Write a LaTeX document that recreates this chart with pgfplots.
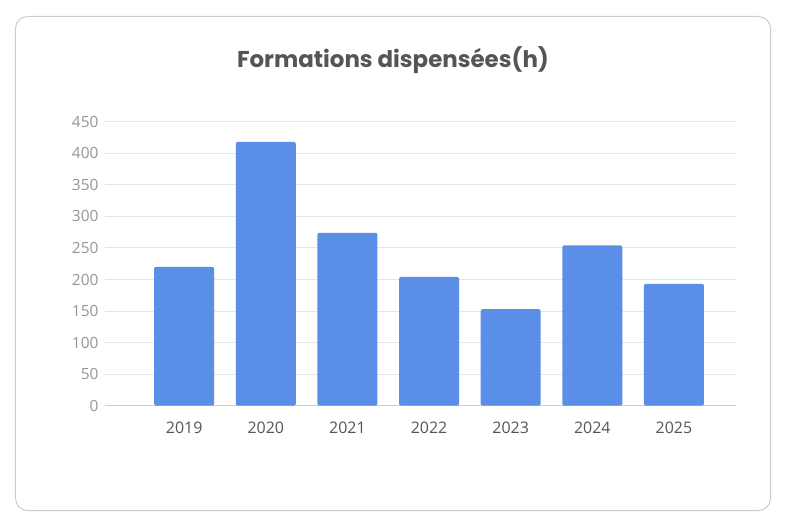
\documentclass[border=0pt]{standalone}
\usepackage{pgfplots}
\pgfplotsset{compat=1.18}
\usepackage{fontspec}
\setmainfont{Open Sans}
\newfontfamily\titlefont{Poppins}

\definecolor{barblue}{RGB}{91,142,230}
\definecolor{gridgray}{RGB}{230,230,230}
\definecolor{basegray}{RGB}{205,205,205}
\definecolor{cardgray}{RGB}{205,205,205}
\definecolor{titlegray}{RGB}{85,85,85}
\definecolor{ylabgray}{RGB}{150,150,150}
\definecolor{xlabgray}{RGB}{85,85,85}

\begin{document}
\begin{tikzpicture}
  \begin{axis}[
      scale only axis,
      width=631bp, height=284bp,
      xmin=-0.97, xmax=6.76,
      ymin=0, ymax=450,
      xtick={0,1,2,3,4,5,6},
      xticklabels={2019,2020,2021,2022,2023,2024,2025},
      ytick={0,50,...,450},
      ymajorgrids=true,
      grid style={gridgray, line width=1bp},
      axis lines=left,
      axis line style={-},
      y axis line style={draw=none},
      x axis line style={basegray, line width=1.5bp},
      major tick length=0pt,
      clip=false,
      /pgf/number format/assume math mode=true,
      yticklabel style={font=\fontsize{15.5}{18}\selectfont, text=ylabgray, xshift=-3bp},
      xticklabel style={font=\fontsize{16}{19}\selectfont, text=xlabgray, yshift=-13bp},
    ]
    \addplot[ybar, bar width=60bp, fill=barblue, draw=none, rounded corners=2bp]
      coordinates {(0,220) (1,418) (2,274) (3,204) (4,153) (5,254) (6,193)};
    % page frame and card, placed from the axis' lower left corner
    \path ([shift={(-105bp,-121.3bp)}]rel axis cs:0,0) rectangle
          ([shift={(-105bp,405.7bp)}]rel axis cs:0,0);
    \path ([shift={(681bp,-121.3bp)}]rel axis cs:0,0) rectangle
          ([shift={(681bp,405.7bp)}]rel axis cs:0,0);
    \draw[cardgray, line width=1bp, rounded corners=12bp]
      ([shift={(-89.5bp,-104.8bp)}]rel axis cs:0,0) rectangle
      ([shift={(665.5bp,389.2bp)}]rel axis cs:0,0);
    \node[font=\titlefont\bfseries\fontsize{23}{26}\selectfont, text=titlegray]
      at ([shift={(288bp,345.7bp)}]rel axis cs:0,0) {Formations dispensées(h)};
  \end{axis}
\end{tikzpicture}
\end{document}
